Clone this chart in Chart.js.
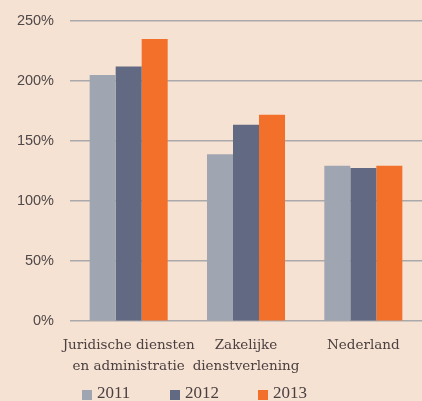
<!DOCTYPE html>
<html>
<head>
<meta charset="utf-8">
<script src="https://cdn.jsdelivr.net/npm/chart.js@4/dist/chart.umd.min.js"></script>
<style>
  html,body{margin:0;padding:0;background:#f6e2d3;}
  #wrap{width:422px;height:401px;}
</style>
</head>
<body>
<div id="wrap"><canvas id="c"></canvas></div>
<script>
// ── Data ──
const categories = [['Juridische diensten','en administratie'], ['Zakelijke','dienstverlening'], 'Nederland'];
const years = ['2011', '2012', '2013'];
const values2011 = [205, 139, 129.5];
const values2012 = [212, 163.5, 127.5];
const values2013 = [235, 172, 129.5];
const yTicks = [0, 50, 100, 150, 200, 250];
const colors = ['#a0a6b1', '#626a83', '#f3702b'];

const serif = "'DejaVu Serif',serif";
const legendSerif = "'Liberation Serif','DejaVu Serif',serif";
const sans = "'Liberation Sans','DejaVu Sans',sans-serif";

// ── Legend (drawn below the axis labels) ──
const bottomLegend = {
  id: 'bottomLegend',
  afterDraw(chart) {
    const ctx = chart.ctx;
    ctx.save();
    ctx.font = `17px ${legendSerif}`;
    ctx.textBaseline = 'middle';
    years.forEach((y, i) => {
      const x = 82 + i * 88;
      ctx.fillStyle = colors[i];
      ctx.fillRect(x, 390, 10, 10);
      ctx.fillStyle = '#4a4040';
      ctx.fillText(y, x + 15, 394);
    });
    ctx.restore();
  }
};

new Chart(document.getElementById('c'), {
  type: 'bar',
  data: {
    labels: categories,
    datasets: [values2011, values2012, values2013].map((d, i) => ({
      label: years[i], data: d, backgroundColor: colors[i], borderWidth: 0,
      barPercentage: 1, categoryPercentage: 0.665
    }))
  },
  options: {
    responsive: true, maintainAspectRatio: false, animation: false,
    layout: {padding: {top: 21, right: 0, left: 0, bottom: 10}},
    plugins: {
      tooltip: {enabled: false},
      legend: {display: false}
    },
    scales: {
      x: {
        grid: {display: false, drawTicks: false},
        border: {display: false},
        ticks: {color: '#4a4040', font: {family: serif, size: 13.5, lineHeight: 1.55},
                padding: 14, maxRotation: 0, autoSkip: false}
      },
      y: {
        min: 0, max: 250,
        afterBuildTicks: s => { s.ticks = yTicks.map(v => ({value: v})); },
        afterFit: s => { s.width = 70; s.paddingTop = 0; },
        grid: {color: '#a9a9ab', lineWidth: 1.5, drawTicks: false},
        border: {display: false},
        ticks: {color: '#4f4848', font: {family: sans, size: 14.5}, padding: 16, callback: v => v + '%'}
      }
    }
  },
  plugins: [bottomLegend]
});
</script>
</body>
</html>
